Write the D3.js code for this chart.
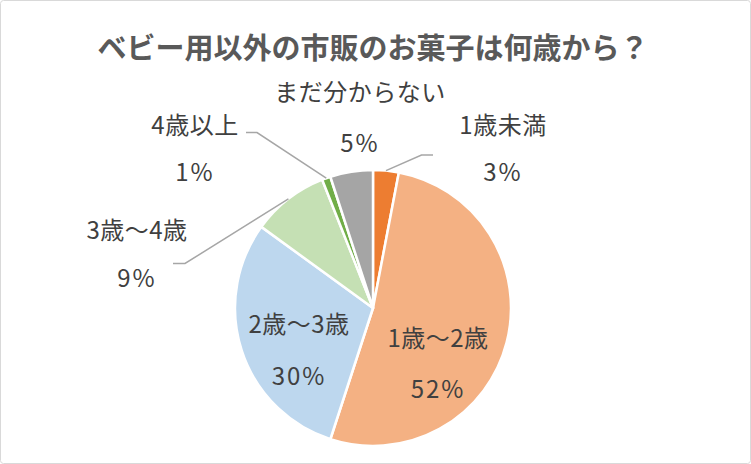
<!DOCTYPE html>
<html><head><meta charset="utf-8">
<script src="https://cdn.jsdelivr.net/npm/d3@7"></script>
<style>
html,body{margin:0;padding:0;background:#fff;}
svg{display:block;font-family:"Noto Sans CJK JP","Noto Sans",sans-serif;}
</style></head>
<body>
<svg id="chart" width="751" height="464"></svg>
<script>
const title = "ベビー用以外の市販のお菓子は何歳から？";
const categories = ["1歳未満","1歳～2歳","2歳～3歳","3歳～4歳","4歳以上","まだ分からない"];
const values = [3, 52, 30, 9, 1, 5];
const colors = ["#ED7D31","#F4B183","#BDD7EE","#C5E0B4","#70AD47","#A5A5A5"];

// layout (label block centers, leader elbows)
const layout = {
  cx: 373, cy: 308, r: 138,
  labels: [
    {x: 503, y: 125, pctDy: 47, leader: [[421.5,155],[433,155]]},
    {x: 438, y: 338, pctDy: 51, leader: null},
    {x: 299, y: 324, pctDy: 52, leader: null},
    {x: 137, y: 230, pctDy: 48, leader: [[185,263.5],[173,263.5]]},
    {x: 195, y: 125, pctDy: 47, leader: [[257,132.5],[246,132.5]]},
    {x: 360, y: 92, pctDy: 51, leader: null}
  ]
};

const svg = d3.select("#chart");
svg.append("rect").attr("x",0.5).attr("y",0.5).attr("width",750).attr("height",463)
  .attr("rx",3).attr("fill","#fff").attr("stroke","#D9D9D9");

svg.append("text").attr("x",373).attr("y",59).attr("text-anchor","middle")
  .attr("font-size",29).attr("font-weight","bold").attr("fill","#595959").text(title);

const data = categories.map((c,i)=>({name:c, value:values[i], color:colors[i], lay:layout.labels[i]}));
const pie = d3.pie().sort(null).value(d=>d.value);
const arcs = pie(data);
const arc = d3.arc().innerRadius(0).outerRadius(layout.r);

const g = svg.append("g").attr("transform",`translate(${layout.cx},${layout.cy})`);
g.selectAll("path").data(arcs).join("path")
  .attr("d",arc).attr("fill",d=>d.data.color)
  .attr("stroke","#fff").attr("stroke-width",2.5).attr("stroke-linejoin","round");

// leader lines
const outer = d3.arc().innerRadius(layout.r).outerRadius(layout.r);
arcs.forEach(a=>{
  const L = a.data.lay.leader;
  if(!L) return;
  const c = outer.centroid(a);
  const pts = [[c[0]+layout.cx, c[1]+layout.cy], ...L];
  svg.append("path").attr("d", d3.line()(pts)).attr("fill","none")
    .attr("stroke","#A6A6A6").attr("stroke-width",1.5);
});

// labels
const total = d3.sum(values);
arcs.forEach(a=>{
  const l = a.data.lay;
  const t = svg.append("text").attr("text-anchor","middle").attr("fill","#404040")
    .attr("font-size",24).attr("letter-spacing",0.5);
  t.append("tspan").attr("x",l.x).attr("y",l.y+9).text(a.data.name);
  t.append("tspan").attr("x",l.x).attr("y",l.y+9+l.pctDy).attr("letter-spacing",2).text(Math.round(a.data.value/total*100)+"%");
});
</script>
</body></html>
